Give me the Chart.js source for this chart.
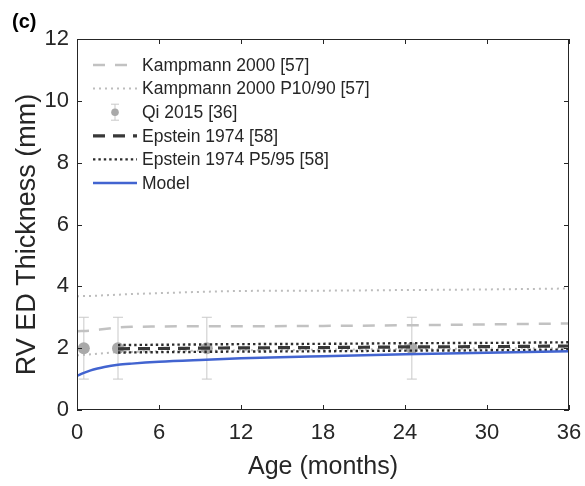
<!DOCTYPE html>
<html>
<head>
<meta charset="utf-8">
<script src="https://cdn.jsdelivr.net/npm/chart.js@4.4.1/dist/chart.umd.min.js"></script>
<style>
  html, body { margin: 0; padding: 0; background: #fff; }
  #wrap { width: 585px; height: 486px; }
</style>
</head>
<body>
<div id="wrap"><canvas id="chart" width="585" height="486"></canvas></div>
<script>
// tick labels
const xTicks = [0, 6, 12, 18, 24, 30, 36];
const yTicks = [0, 2, 4, 6, 8, 10, 12];

// Kampmann 2000 mean and P10/P90
const kampAge = [0, 1, 2, 3, 4, 6, 9, 12, 18, 24, 30, 36];
const kampMean = [2.55, 2.57, 2.62, 2.67, 2.69, 2.70, 2.71, 2.71, 2.72, 2.74, 2.77, 2.80];
const kampP90 = [3.68, 3.69, 3.71, 3.73, 3.75, 3.78, 3.82, 3.85, 3.86, 3.88, 3.90, 3.93];
const kampP10 = [1.77, 1.80, 1.84, 1.87, 1.88, 1.90, 1.92, 1.93, 1.95, 1.97, 1.99, 2.00];

// Qi 2015 mean +/- sd
const qiAge = [0.5, 3, 9.5, 24.5];
const qiMean = [2.0, 2.0, 2.0, 2.0];
const qiSd = [1.0, 1.0, 1.0, 1.0];

// Epstein 1974 mean and P5/P95
const epAge = [3, 6, 12, 18, 24, 30, 36];
const epMean = [1.98, 1.99, 2.01, 2.02, 2.04, 2.05, 2.07];
const epP95 = [2.10, 2.11, 2.13, 2.14, 2.16, 2.17, 2.19];
const epP5 = [1.86, 1.87, 1.89, 1.90, 1.92, 1.93, 1.95];

// Model
const modelAge = [0, 0.5, 1, 1.5, 2, 3, 4, 6, 9, 12, 18, 24, 30, 36];
const modelThk = [1.10, 1.20, 1.28, 1.34, 1.39, 1.46, 1.50, 1.56, 1.62, 1.67, 1.74, 1.80, 1.85, 1.90];

const FONT = '"Liberation Sans", Arial, sans-serif';
const AXIS = '#262626';

const pts = (xs, ys) => xs.map((x, i) => ({ x: x, y: ys[i] }));

function lineSet(label, xs, ys, style) {
  return Object.assign({
    label: label,
    data: pts(xs, ys),
    showLine: true,
    pointRadius: 0,
    fill: false,
    cubicInterpolationMode: 'monotone',
    borderCapStyle: 'butt'
  }, style);
}

const kampDash = { borderColor: '#c2c2c2', borderWidth: 2.5, borderDash: [12, 10] };
const kampDot = { borderColor: '#bdbdbd', borderWidth: 2, borderDash: [2, 4] };
const epDash = { borderColor: '#383838', borderWidth: 3.2, borderDash: [12, 8] };
const epDot = { borderColor: '#2c2c2c', borderWidth: 2.4, borderDash: [2.4, 3] };

const datasets = [
  lineSet('Kampmann 2000 [57]', kampAge, kampMean, Object.assign({ order: 6, legendRank: 1 }, kampDash)),
  lineSet('Kampmann 2000 P10/90 [57]', kampAge, kampP90, Object.assign({ order: 5, legendRank: 2 }, kampDot)),
  lineSet('Kampmann P10', kampAge, kampP10, Object.assign({ order: 5 }, kampDot)),
  {
    label: 'Qi 2015 [36]',
    data: pts(qiAge, qiMean),
    errors: qiSd,
    showLine: false,
    pointRadius: 6,
    pointBackgroundColor: '#a9a9a9',
    pointBorderWidth: 0,
    order: 4,
    legendRank: 3,
    isQi: true
  },
  lineSet('Epstein 1974 [58]', epAge, epMean, Object.assign({ order: 2, legendRank: 4 }, epDash)),
  lineSet('Epstein 1974 P5/95 [58]', epAge, epP95, Object.assign({ order: 3, legendRank: 5 }, epDot)),
  lineSet('Epstein P5', epAge, epP5, Object.assign({ order: 3 }, epDot)),
  lineSet('Model', modelAge, modelThk, { order: 0, legendRank: 6, borderColor: '#4264d0', borderWidth: 2.5, borderDash: [] })
];

const errorBarPlugin = {
  id: 'errorBars',
  beforeDatasetsDraw(chart) {
    const { ctx, scales: { x, y } } = chart;
    ctx.save();
    ctx.strokeStyle = '#c9c9c9';
    ctx.lineWidth = 1;
    chart.data.datasets.forEach(ds => {
      if (!ds.errors) return;
      ds.data.forEach((p, i) => {
        const px = x.getPixelForValue(p.x);
        const top = y.getPixelForValue(p.y + ds.errors[i]);
        const bot = y.getPixelForValue(p.y - ds.errors[i]);
        ctx.beginPath();
        ctx.moveTo(px, top); ctx.lineTo(px, bot);
        ctx.moveTo(px - 5, top); ctx.lineTo(px + 5, top);
        ctx.moveTo(px - 5, bot); ctx.lineTo(px + 5, bot);
        ctx.stroke();
      });
    });
    ctx.restore();
  }
};

const framePlugin = {
  id: 'frame',
  beforeDraw(chart) {
    const ctx = chart.ctx;
    ctx.save();
    ctx.fillStyle = '#fff';
    ctx.fillRect(0, 0, chart.width, chart.height);
    ctx.restore();
  },
  afterDatasetsDraw(chart) {
    const { ctx, chartArea: a, scales: { x, y } } = chart;
    const tl = 5;
    ctx.save();
    ctx.strokeStyle = AXIS;
    ctx.lineWidth = 1;
    ctx.strokeRect(a.left + 0.5, a.top + 0.5, a.right - a.left - 1, a.bottom - a.top - 1);
    ctx.beginPath();
    xTicks.forEach(v => {
      const px = Math.round(x.getPixelForValue(v)) + 0.5;
      ctx.moveTo(px, a.bottom); ctx.lineTo(px, a.bottom - tl);
      ctx.moveTo(px, a.top); ctx.lineTo(px, a.top + tl);
    });
    yTicks.forEach(v => {
      const py = Math.round(y.getPixelForValue(v)) + 0.5;
      ctx.moveTo(a.left, py); ctx.lineTo(a.left + tl, py);
      ctx.moveTo(a.right, py); ctx.lineTo(a.right - tl, py);
    });
    ctx.stroke();
    ctx.restore();
  }
};

const legendPlugin = {
  id: 'matLegend',
  afterDraw(chart) {
    const { ctx, chartArea: a } = chart;
    const x0 = a.left + 16, x1 = x0 + 44, tx = x1 + 5;
    const items = chart.data.datasets.filter(d => d.legendRank).sort((p, q) => p.legendRank - q.legendRank);
    ctx.save();
    ctx.font = '17.5px ' + FONT;
    ctx.textBaseline = 'middle';
    items.forEach((ds, i) => {
      const yy = a.top + 26 + i * 23.6;
      if (ds.isQi) {
        const cx = (x0 + x1) / 2;
        ctx.strokeStyle = '#c9c9c9';
        ctx.lineWidth = 1;
        ctx.setLineDash([]);
        ctx.beginPath();
        ctx.moveTo(cx, yy - 8); ctx.lineTo(cx, yy + 8);
        ctx.moveTo(cx - 4, yy - 8); ctx.lineTo(cx + 4, yy - 8);
        ctx.moveTo(cx - 4, yy + 8); ctx.lineTo(cx + 4, yy + 8);
        ctx.stroke();
        ctx.fillStyle = ds.pointBackgroundColor;
        ctx.beginPath();
        ctx.arc(cx, yy, 3.8, 0, Math.PI * 2);
        ctx.fill();
      } else {
        ctx.strokeStyle = ds.borderColor;
        ctx.lineWidth = ds.borderWidth;
        ctx.setLineDash(ds.borderDash || []);
        ctx.lineCap = 'butt';
        ctx.beginPath();
        ctx.moveTo(x0, yy); ctx.lineTo(x1, yy);
        ctx.stroke();
      }
      ctx.setLineDash([]);
      ctx.fillStyle = AXIS;
      ctx.fillText(ds.label, tx, yy + 1);
    });

    // y axis title, sitting a little below the axis centre as in the figure
    ctx.save();
    ctx.translate(28, (a.top + a.bottom) / 2 + 10);
    ctx.rotate(-Math.PI / 2);
    ctx.font = '27px ' + FONT;
    ctx.textAlign = 'center';
    ctx.textBaseline = 'middle';
    ctx.fillStyle = AXIS;
    ctx.fillText('RV ED Thickness (mm)', 0, 0);
    ctx.restore();

    // panel label
    ctx.font = 'bold 20px ' + FONT;
    ctx.textBaseline = 'alphabetic';
    ctx.fillStyle = '#000';
    ctx.fillText('(c)', 12, 28);
    ctx.restore();
  }
};

new Chart(document.getElementById('chart'), {
  type: 'scatter',
  data: { datasets: datasets },
  options: {
    responsive: false,
    animation: false,
    devicePixelRatio: 1,
    layout: { padding: { top: 39, right: 16, left: 0, bottom: 0 } },
    plugins: {
      legend: { display: false },
      tooltip: { enabled: false }
    },
    scales: {
      x: {
        type: 'linear',
        min: 0,
        max: 36,
        grid: { display: false, drawTicks: false },
        border: { display: false },
        afterBuildTicks: s => { s.ticks = xTicks.map(v => ({ value: v })); },
        afterFit: s => { s.height = 76; s.paddingLeft = 0; s.paddingRight = 0; },
        ticks: { font: { family: FONT, size: 22 }, color: AXIS, padding: 10, maxRotation: 0, autoSkip: false },
        title: { display: true, text: 'Age (months)', color: AXIS, font: { family: FONT, size: 25 }, padding: { top: 0, bottom: 4 } }
      },
      y: {
        type: 'linear',
        min: 0,
        max: 12,
        grid: { display: false, drawTicks: false },
        border: { display: false },
        afterBuildTicks: s => { s.ticks = yTicks.map(v => ({ value: v })); },
        afterFit: s => { s.width = 77; s.paddingTop = 0; s.paddingBottom = 0; },
        ticks: { font: { family: FONT, size: 22 }, color: AXIS, padding: 8 },
        title: { display: false }
      }
    }
  },
  plugins: [errorBarPlugin, framePlugin, legendPlugin]
});
</script>
</body>
</html>
